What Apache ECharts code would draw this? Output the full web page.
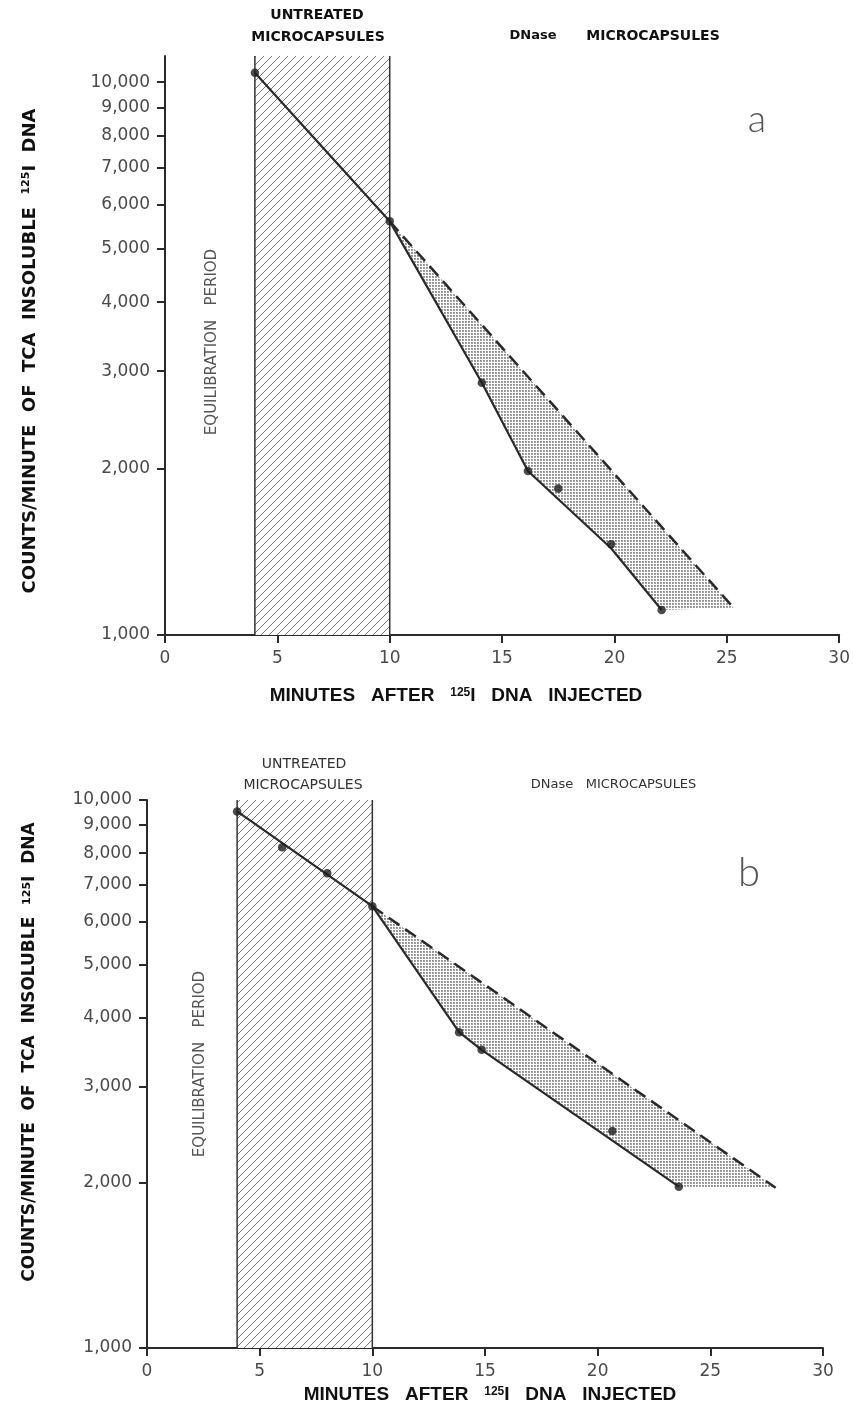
<!DOCTYPE html>
<html>
<head>
<meta charset="utf-8">
<script src="https://cdn.jsdelivr.net/npm/echarts@6/dist/echarts.min.js"></script>
<style>
  html, body { margin: 0; padding: 0; background: #fff; }
  #chart { width: 853px; height: 1423px; }
</style>
</head>
<body>
<div id="chart"></div>
<script>
// ---- Panel a: measured counts and drawn curves ----
const timeA = [4, 10, 14.1, 16.15, 17.5, 19.85, 22.1];
const countsA = [10400, 5600, 2860, 1980, 1840, 1460, 1110];
const fitTimeA = [4, 10, 14.1, 16.15, 19.85, 22.1];
const fitCountsA = [10400, 5600, 2860, 1980, 1435, 1110];
const expectTimeA = [10, 25.3];
const expectCountsA = [5600, 1120];

// ---- Panel b ----
const timeB = [4, 6, 8, 10, 13.85, 14.85, 20.65, 23.6];
const countsB = [9530, 8200, 7350, 6400, 3770, 3500, 2490, 1970];
const fitTimeB = [4, 10, 13.85, 14.85, 23.6];
const fitCountsB = [9530, 6400, 3770, 3500, 1970];
const expectTimeB = [10, 27.9];
const expectCountsB = [6400, 1960];

// equilibration window (minutes)
const equilibration = [4, 10];

// axis ticks
const yTickValues = [1000, 2000, 3000, 4000, 5000, 6000, 7000, 8000, 9000, 10000];
const yTickLabels = ['1,000', '2,000', '3,000', '4,000', '5,000', '6,000', '7,000', '8,000', '9,000', '10,000'];
const xTickValues = [0, 5, 10, 15, 20, 25, 30];
const xTickLabels = ['0', '5', '10', '15', '20', '25', '30'];
const yMaxA = 11150;
const yMaxB = 10000;

// counts are plotted on a log10 value axis
const lg = v => Math.log10(v);
const yTickLogs = yTickValues.map(lg);

function pairs(ts, cs) { return ts.map((t, i) => [t, lg(cs[i])]); }

// fill textures
function makeHatch() {
  const c = document.createElement('canvas');
  c.width = 8; c.height = 8;
  const g = c.getContext('2d');
  g.fillStyle = '#fff'; g.fillRect(0, 0, 8, 8);
  g.strokeStyle = '#7a7a7a'; g.lineWidth = 1;
  for (const k of [-8, 0, 8]) {
    g.beginPath(); g.moveTo(k, 8); g.lineTo(k + 8, 0); g.stroke();
  }
  return { image: c, repeat: 'repeat' };
}
function makeDots() {
  const c = document.createElement('canvas');
  c.width = 3; c.height = 3;
  const g = c.getContext('2d');
  g.fillStyle = '#fff'; g.fillRect(0, 0, 3, 3);
  g.fillStyle = '#a0a0a0'; g.fillRect(0, 0, 2, 2);
  g.fillStyle = '#8a8a8a'; g.fillRect(0, 0, 1, 1);
  return { image: c, repeat: 'repeat' };
}
const hatchFill = makeHatch();
const dotFill = makeDots();

function hatchItem(yMax) {
  return function (params, api) {
    const a = api.coord([api.value(0), lg(yMax)]);
    const b = api.coord([api.value(1), lg(1000)]);
    return {
      type: 'group',
      children: [
        { type: 'rect', shape: { x: a[0], y: a[1], width: b[0] - a[0], height: b[1] - a[1] }, style: { fill: hatchFill } },
        { type: 'line', shape: { x1: a[0], y1: a[1], x2: a[0], y2: b[1] }, style: { stroke: '#333', lineWidth: 1.5 } },
        { type: 'line', shape: { x1: b[0], y1: a[1], x2: b[0], y2: b[1] }, style: { stroke: '#333', lineWidth: 1.5 } }
      ]
    };
  };
}

function shadeItem(fitT, fitC, expT, expC) {
  return function (params, api) {
    const pts = [];
    fitT.forEach((t, i) => { if (t >= expT[0]) pts.push(api.coord([t, lg(fitC[i])])); });
    for (let i = expT.length - 1; i >= 0; i--) pts.push(api.coord([expT[i], lg(expC[i])]));
    return { type: 'polygon', shape: { points: pts }, style: { fill: dotFill } };
  };
}

const axisColor = '#2b2b2b';
const labelFont = { fontFamily: 'DejaVu Sans', fontSize: 17, color: '#4a4a4a' };

function xAxisFor(gridIndex) {
  return {
    type: 'value', gridIndex, min: 0, max: 30, interval: 5,
    axisLine: { show: true, onZero: false, lineStyle: { color: axisColor, width: 2 } },
    axisTick: { show: true, inside: false, length: 8, lineStyle: { color: axisColor, width: 2 } },
    axisLabel: Object.assign({ margin: 15, formatter: v => xTickLabels[xTickValues.indexOf(v)] }, labelFont),
    splitLine: { show: false }
  };
}
function yAxisFor(gridIndex, yMax) {
  return {
    type: 'value', gridIndex, min: 3, max: lg(yMax),
    axisLine: { show: true, onZero: false, lineStyle: { color: axisColor, width: 2 } },
    axisTick: { show: true, inside: false, length: 8, customValues: yTickLogs, lineStyle: { color: axisColor, width: 2 } },
    axisLabel: Object.assign({
      margin: 15, customValues: yTickLogs,
      formatter: v => {
        let best = 0;
        yTickLogs.forEach((t, i) => { if (Math.abs(t - v) < Math.abs(yTickLogs[best] - v)) best = i; });
        return yTickLabels[best];
      }
    }, labelFont),
    splitLine: { show: false }
  };
}

function panelSeries(idx, yMax, time, counts, fitT, fitC, expT, expC) {
  const ax = { xAxisIndex: idx, yAxisIndex: idx };
  return [
    Object.assign({ type: 'custom', renderItem: hatchItem(yMax), data: [equilibration], z: 1, silent: true }, ax),
    Object.assign({ type: 'custom', renderItem: shadeItem(fitT, fitC, expT, expC), data: [0], z: 2, silent: true }, ax),
    Object.assign({ type: 'line', data: pairs(expT, expC), symbol: 'none', z: 3,
      lineStyle: { color: '#2a2a2a', width: 2.5, type: [13, 7] } }, ax),
    Object.assign({ type: 'line', data: pairs(fitT, fitC), symbol: 'none', z: 4,
      lineStyle: { color: '#2a2a2a', width: 2.2 } }, ax),
    Object.assign({ type: 'scatter', data: pairs(time, counts), symbol: 'circle', symbolSize: 8.5, z: 5,
      itemStyle: { color: '#1e1e1e' } }, ax)
  ];
}

function txt(x, y, text, font, fill, extra) {
  return Object.assign({
    type: 'text', x, y, silent: true,
    style: { text, font, fill: fill || '#111', align: 'center', verticalAlign: 'middle' }
  }, extra || {});
}
function richTxt(x, y, text, rich, rotation) {
  return {
    type: 'text', x, y, rotation: rotation || 0, silent: true,
    style: { text, rich, align: 'center', verticalAlign: 'middle' }
  };
}

function yTitle(x, y, size) {
  return richTxt(x, y, '{t|COUNTS/MINUTE  OF  TCA  INSOLUBLE  }{s|125}{t|I  DNA}', {
    t: { fontFamily: 'DejaVu Sans', fontWeight: 'bold', fontSize: size, fill: '#111', verticalAlign: 'middle' },
    s: { fontFamily: 'DejaVu Sans', fontWeight: 'bold', fontSize: Math.round(size * 0.62), fill: '#111', verticalAlign: 'top' }
  }, Math.PI / 2);
}
function xTitle(x, y) {
  return richTxt(x, y, '{t|MINUTES   AFTER   }{s|125}{t|I   DNA   INJECTED}', {
    t: { fontFamily: 'Liberation Sans', fontWeight: 'bold', fontSize: 19, fill: '#111', verticalAlign: 'middle' },
    s: { fontFamily: 'Liberation Sans', fontWeight: 'bold', fontSize: 12, fill: '#111', verticalAlign: 'top' }
  });
}

const chart = echarts.init(document.getElementById('chart'), null, { renderer: 'canvas' });
chart.setOption({
  animation: false,
  backgroundColor: '#fff',
  grid: [
    { left: 165, top: 56, width: 675, height: 579 },
    { left: 147, top: 800, width: 676, height: 548 }
  ],
  xAxis: [xAxisFor(0), xAxisFor(1)],
  yAxis: [yAxisFor(0, yMaxA), yAxisFor(1, yMaxB)],
  series: [].concat(
    panelSeries(0, yMaxA, timeA, countsA, fitTimeA, fitCountsA, expectTimeA, expectCountsA),
    panelSeries(1, yMaxB, timeB, countsB, fitTimeB, fitCountsB, expectTimeB, expectCountsB)
  ),
  graphic: [
    // panel a headings
    txt(317, 15, 'UNTREATED', 'bold 14px "DejaVu Sans"', '#111'),
    txt(318, 37, 'MICROCAPSULES', 'bold 14px "DejaVu Sans"', '#111'),
    txt(533, 36, 'DNase', 'bold 13px "DejaVu Sans"', '#111'),
    txt(653, 36, 'MICROCAPSULES', 'bold 14px "DejaVu Sans"', '#111'),
    txt(757, 120, 'a', '300 38px Lato', '#555'),
    txt(212, 342, 'EQUILIBRATION   PERIOD', '15px "DejaVu Sans"', '#555', { rotation: Math.PI / 2 }),
    yTitle(30, 351, 18),
    xTitle(456, 696),
    // panel b headings
    txt(304, 764, 'UNTREATED', '14px "DejaVu Sans"', '#333'),
    txt(303, 785, 'MICROCAPSULES', '14px "DejaVu Sans"', '#333'),
    txt(552, 785, 'DNase', '13px "DejaVu Sans"', '#333'),
    txt(641, 785, 'MICROCAPSULES', '13px "DejaVu Sans"', '#333'),
    txt(749, 873, 'b', '300 40px Lato', '#555'),
    txt(200, 1064, 'EQUILIBRATION   PERIOD', '15px "DejaVu Sans"', '#555', { rotation: Math.PI / 2 }),
    yTitle(30, 1052, 17),
    xTitle(490, 1395)
  ]
});
</script>
</body>
</html>
